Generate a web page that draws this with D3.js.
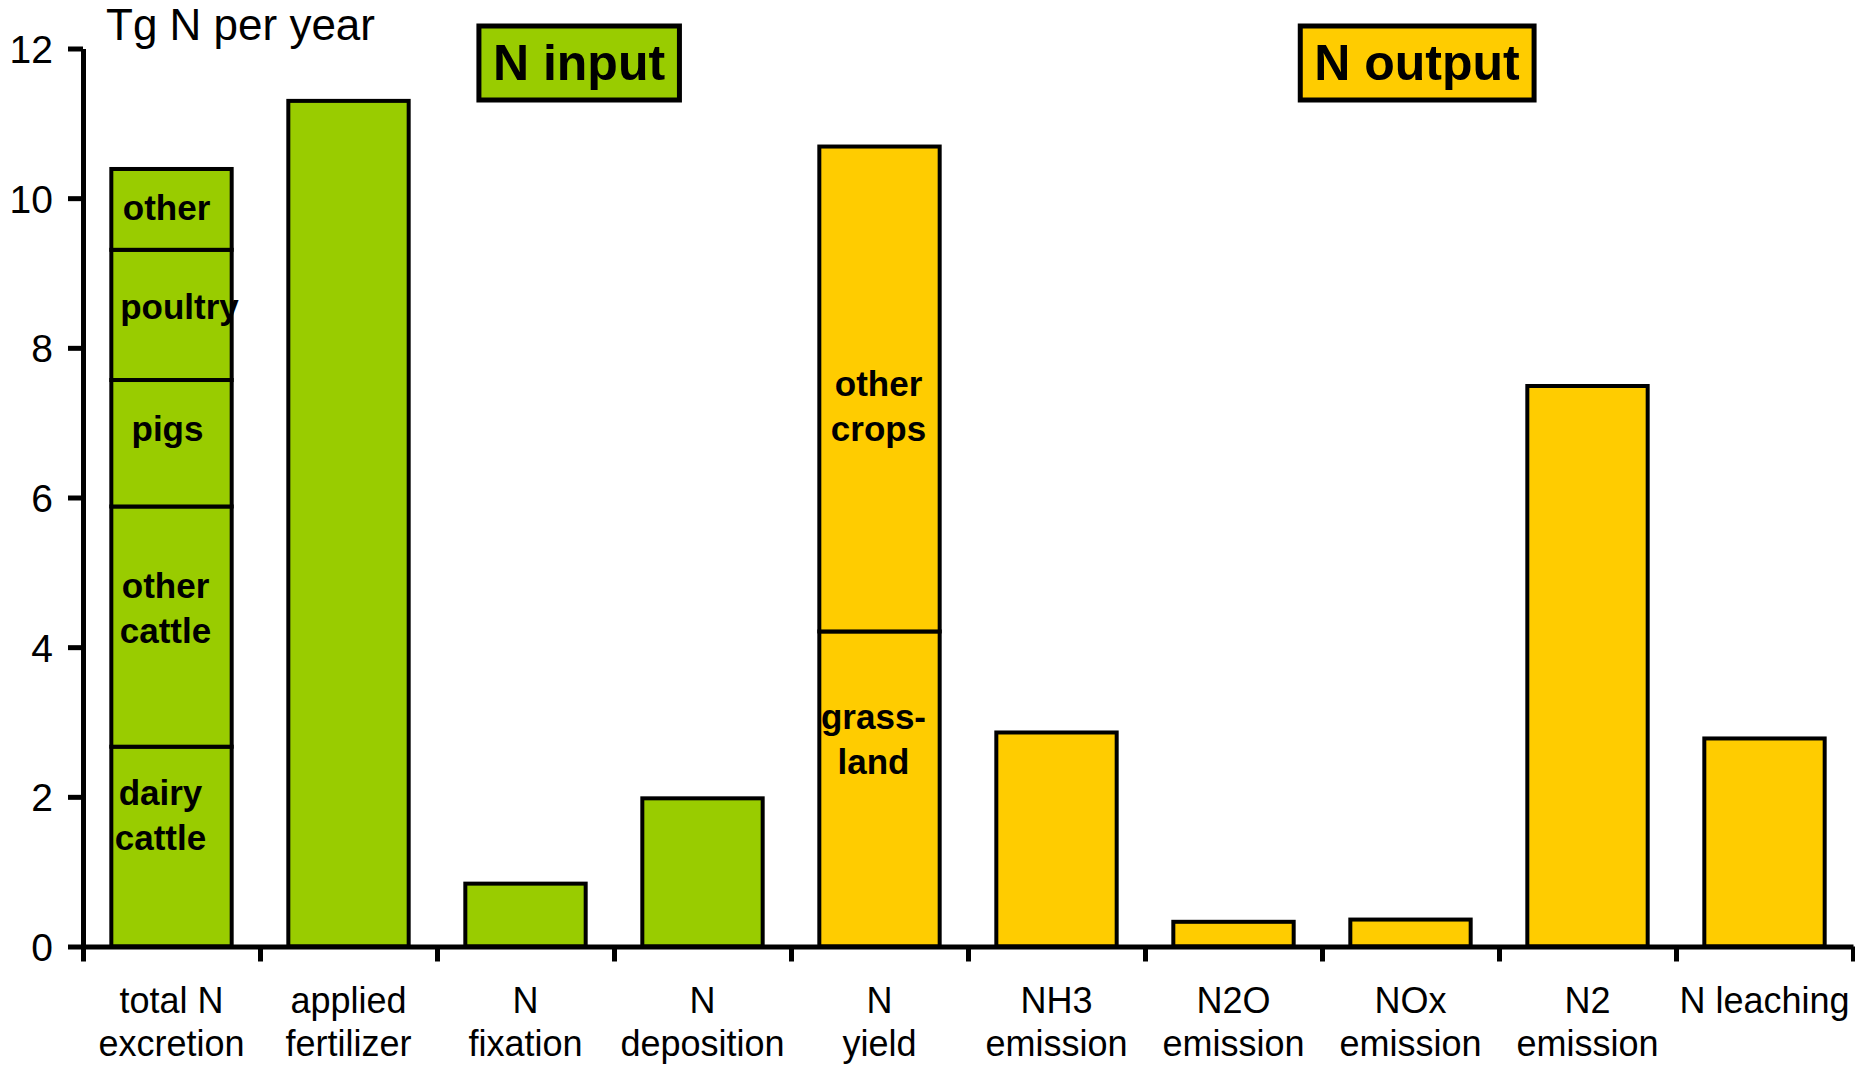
<!DOCTYPE html>
<html>
<head>
<meta charset="utf-8">
<script src="https://cdn.jsdelivr.net/npm/d3@7"></script>
<style>
  html, body { margin: 0; padding: 0; background: #fff; }
  svg { display: block; font-family: "Liberation Sans", Arial, Helvetica, sans-serif; }
</style>
</head>
<body>
<svg id="chart" width="1855" height="1066"></svg>
<script>
// Agricultural nitrogen budget (Tg N per year)
const categories = ["total N excretion", "applied fertilizer", "N fixation", "N deposition", "N yield",
                    "NH3 emission", "N2O emission", "NOx emission", "N2 emission", "N leaching"];
const categoryLines = [["total N", "excretion"], ["applied", "fertilizer"], ["N", "fixation"], ["N", "deposition"],
                       ["N", "yield"], ["NH3", "emission"], ["N2O", "emission"], ["NOx", "emission"],
                       ["N2", "emission"], ["N leaching"]];
const flowGroup = ["input", "input", "input", "input", "output", "output", "output", "output", "output", "output"];
const totals = [10.39, 11.30, 0.84, 1.98, 10.69, 2.86, 0.33, 0.36, 7.49, 2.78];

// breakdown of manure excretion by animal category
const excretionParts = ["dairy cattle", "other cattle", "pigs", "poultry", "other"];
const excretionLines = [["dairy", "cattle"], ["other", "cattle"], ["pigs"], ["poultry"], ["other"]];
const excretionValues = [2.67, 3.21, 1.69, 1.74, 1.08];

// breakdown of N yield by land use
const yieldParts = ["grassland", "other crops"];
const yieldLines = [["grass-", "land"], ["other", "crops"]];
const yieldValues = [4.21, 6.48];

const yTicks = [0, 2, 4, 6, 8, 10, 12];
const groupTitles = ["N input", "N output"];

// ---------------------------------------------------------------------------
const colors = { input: "#99CC00", output: "#FFCC00" };
const svg = d3.select("#chart");

const plotLeft = 83, plotRight = 1853, plotTop = 48.5, plotBottom = 946.5;

const y = d3.scaleLinear().domain([0, 12]).range([plotBottom, plotTop]);
const x = d3.scaleBand().domain(categories).range([plotLeft, plotRight])
  .paddingInner(0.32).paddingOuter(0.16);
const xEdge = d3.scaleLinear().domain([0, categories.length]).range([plotLeft, plotRight]);

// stacked segments for the two broken-down bars
function stack(values, names, lines) {
  let acc = 0;
  return values.map((v, i) => {
    const s = { name: names[i], lines: lines[i], y0: acc, y1: acc + v };
    acc += v;
    return s;
  });
}
const segmentsFor = {
  "total N excretion": stack(excretionValues, excretionParts, excretionLines),
  "N yield": stack(yieldValues, yieldParts, yieldLines)
};

// bars
const bars = svg.append("g");
categories.forEach((c, i) => {
  const segs = segmentsFor[c] || [{ y0: 0, y1: totals[i] }];
  bars.append("g").selectAll("rect").data(segs).join("rect")
    .attr("x", x(c))
    .attr("width", x.bandwidth())
    .attr("y", d => y(d.y1))
    .attr("height", d => y(d.y0) - y(d.y1))
    .attr("fill", colors[flowGroup[i]])
    .attr("stroke", "#000")
    .attr("stroke-width", 4);
});

// text placement inside the stacked segments (value units + pixel nudge)
const segLabelLayout = {
  "dairy cattle": { at: 1.76, dx: -11 },
  "other cattle": { at: 4.53, dx: -6 },
  "pigs": { at: 6.93, dx: -4 },
  "poultry": { at: 8.55, dx: 8 },
  "other": { at: 9.88, dx: -5 },
  "grassland": { at: 2.78, dx: -6 },
  "other crops": { at: 7.23, dx: -1 }
};
const segFont = 35, segLine = 45;
Object.keys(segmentsFor).forEach(c => {
  segmentsFor[c].forEach(s => {
    const lay = segLabelLayout[s.name];
    const cx = x(c) + x.bandwidth() / 2 + lay.dx;
    const n = s.lines.length;
    const cy = y(lay.at);
    const t = svg.append("text")
      .attr("text-anchor", "middle")
      .attr("font-weight", "bold")
      .attr("font-size", segFont)
      .attr("fill", "#000");
    s.lines.forEach((ln, k) => {
      t.append("tspan")
        .attr("x", cx)
        .attr("y", cy + (k - (n - 1) / 2) * segLine + segFont * 0.36)
        .text(ln);
    });
  });
});

// y axis
const yAxis = svg.append("g")
  .attr("transform", `translate(${plotLeft},0)`)
  .call(d3.axisLeft(y).tickValues(yTicks).tickFormat(d3.format("d"))
    .tickSize(15).tickSizeOuter(0).tickPadding(15));
yAxis.select(".domain").attr("stroke", "#000").attr("stroke-width", 5);
yAxis.selectAll(".tick line").attr("stroke", "#000").attr("stroke-width", 5);
yAxis.selectAll(".tick text")
  .attr("font-family", "Liberation Sans, Arial, sans-serif")
  .attr("font-size", 39).attr("fill", "#000").attr("dy", "0.36em");

// x axis: tick marks on category boundaries
const xAxis = svg.append("g")
  .attr("transform", `translate(0,${plotBottom})`)
  .call(d3.axisBottom(xEdge).tickValues(d3.range(categories.length + 1))
    .tickFormat("").tickSize(15).tickSizeOuter(0));
xAxis.select(".domain").attr("stroke", "#000").attr("stroke-width", 5);
xAxis.selectAll(".tick line").attr("stroke", "#000").attr("stroke-width", 5);

// category labels
const catFont = 36;
categories.forEach((c, i) => {
  const t = svg.append("text")
    .attr("text-anchor", "middle")
    .attr("font-size", catFont)
    .attr("fill", "#000");
  categoryLines[i].forEach((ln, k) => {
    t.append("tspan")
      .attr("x", x(c) + x.bandwidth() / 2)
      .attr("y", 1013 + k * 43)
      .text(ln);
  });
});

// unit label
svg.append("text")
  .attr("x", 106).attr("y", 40)
  .attr("font-size", 44)
  .attr("fill", "#000")
  .text("Tg N per year");

// group title boxes
const titleCenters = [579, 1417];
["input", "output"].forEach((g, i) => {
  const gEl = svg.append("g");
  const txt = gEl.append("text")
    .attr("x", titleCenters[i]).attr("y", 80)
    .attr("text-anchor", "middle")
    .attr("font-weight", "bold")
    .attr("font-size", 50)
    .attr("fill", "#000")
    .text(groupTitles[i]);
  const bb = txt.node().getBBox();
  const padX = 14;
  gEl.insert("rect", "text")
    .attr("x", bb.x - padX)
    .attr("y", 26)
    .attr("width", bb.width + 2 * padX)
    .attr("height", 74)
    .attr("fill", colors[g])
    .attr("stroke", "#000")
    .attr("stroke-width", 5);
});
</script>
</body>
</html>
